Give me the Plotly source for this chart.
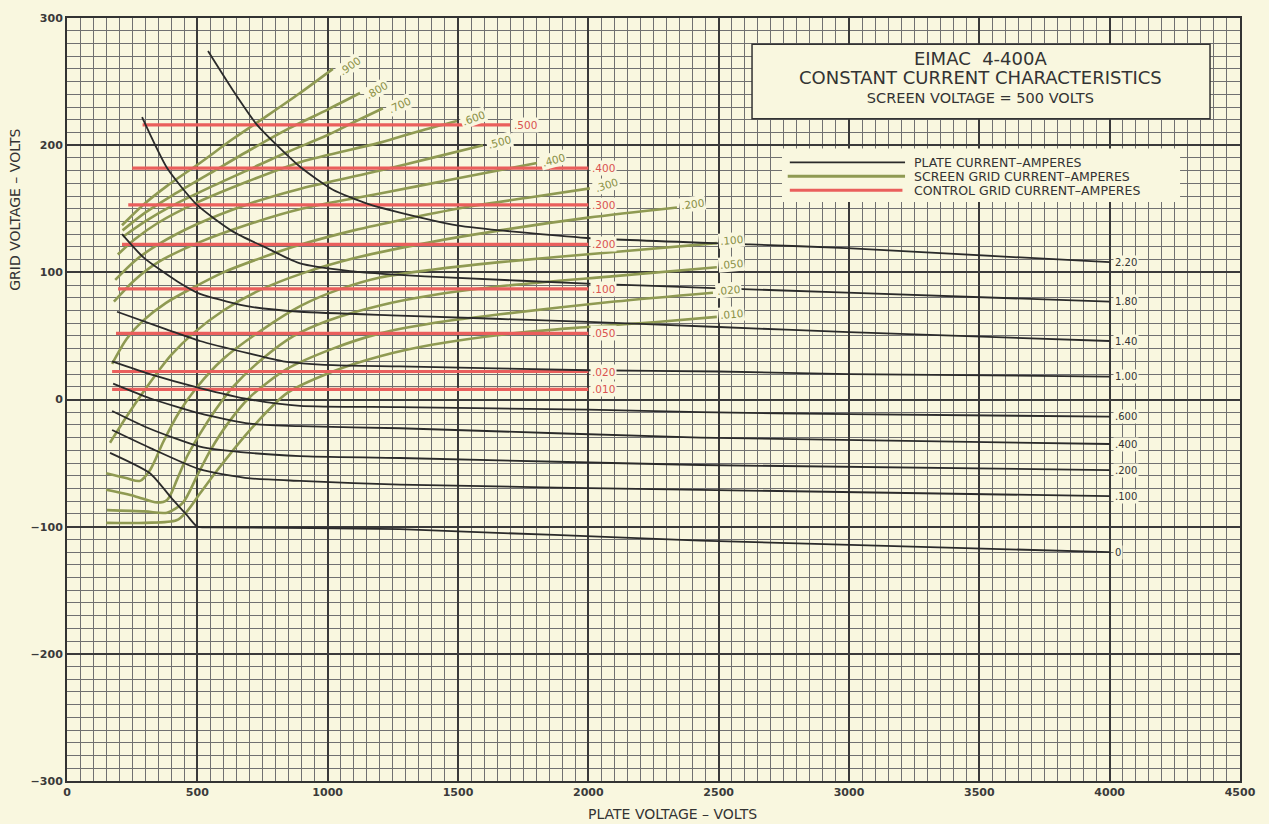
import plotly.graph_objects as go

# ---------------- data ----------------
x_tick_vals = [0, 500, 1000, 1500, 2000, 2500, 3000, 3500, 4000, 4500]
y_tick_vals = [-300, -200, -100, 0, 100, 200, 300]

# Plate current curves (amperes)
plate_labels = ["2.20", "1.80", "1.40", "1.00", ".600", ".400", ".200", ".100", "0"]
plate_ep = [
    [541, 637, 729, 894, 1020, 1151, 1277, 1496, 1995, 2620, 2992, 4000],
    [288, 384, 499, 637, 767, 894, 1086, 1277, 1458, 2018, 2428, 2992, 4000],
    [211, 292, 422, 510, 614, 702, 894, 1277, 2000, 2500, 3000, 4000],
    [192, 384, 510, 702, 829, 1020, 1277, 2000, 2500, 3000, 4000],
    [173, 318, 510, 702, 894, 1277, 2000, 2430, 3000, 4000],
    [177, 318, 510, 702, 894, 1277, 2430, 4000],
    [173, 318, 510, 702, 894, 1277, 2430, 4000],
    [173, 318, 510, 702, 894, 1277, 2430, 4000],
    [165, 318, 407, 460, 500, 560, 1277, 2430, 4000],
]
plate_eg = [
    [274, 243, 216, 183, 165, 154, 147, 137, 127, 122, 119, 108],
    [222, 182, 153, 132, 119, 107, 101, 98, 96, 91, 88, 84, 77],
    [130, 112, 93, 83, 77, 73, 69, 66, 61, 57, 53, 46],
    [69, 55, 46, 36, 30, 27, 26, 23, 22, 20, 18],
    [30, 20, 9, 0, -5, -6, -8, -10, -11.5, -13.5],
    [12.5, 1, -11, -19, -21, -22.6, -30, -35],
    [-9, -23, -37, -42, -44.5, -46, -51.5, -55.5],
    [-24, -38, -55, -62, -64, -67, -71, -76],
    [-42, -58, -79, -91, -100, -100.5, -102, -111, -120],
]

# Screen grid current curves (amperes)
screen_labels = [".900", ".800", ".700", ".600", ".500", ".400", ".300", ".200",
                 ".100", ".050", ".020", ".010"]
screen_ep = [
    [211, 292, 384, 510, 637, 767, 894, 1020],
    [213, 300, 400, 550, 700, 850, 1000, 1124],
    [215, 300, 400, 550, 700, 850, 1000, 1100, 1212],
    [195, 260, 350, 500, 700, 900, 1201, 1350, 1496],
    [185, 260, 350, 500, 700, 900, 1201, 1400, 1596],
    [180, 260, 350, 500, 700, 900, 1201, 1500, 1803],
    [173, 230, 292, 380, 484, 600, 740, 900, 1100, 1300, 1550, 1780, 2006],
    [165, 230, 300, 357, 400, 484, 600, 740, 900, 1100, 1350, 1661, 2000, 2340],
    [150, 230, 280, 320, 370, 430, 500, 600, 750, 900, 1050, 1201, 1400, 1661, 2100, 2493],
    [150, 260, 345, 384, 422, 460, 510, 570, 637, 750, 870, 1000, 1201, 1400, 1661, 2100, 2493],
    [153, 300, 384, 445, 499, 550, 620, 702, 844, 1020, 1201, 1400, 1661, 2100, 2478],
    [150, 300, 420, 460, 510, 575, 702, 844, 1020, 1201, 1400, 1711, 1995, 2263, 2493],
]
screen_eg = [
    [137, 153, 168, 186, 205, 223, 241, 260],
    [133, 147, 160, 178, 196, 213, 228, 241],
    [128, 140, 152, 167, 181, 195, 208, 218, 229],
    [114, 126, 139, 155, 172, 187, 202, 211, 219],
    [94, 109, 122, 138, 154, 166, 180, 190, 200],
    [77, 94, 108, 123, 138, 150, 162, 174, 186],
    [28, 48, 62, 76, 88, 100, 111, 122, 133, 142, 152, 159, 166],
    [-34, -13, 8, 24, 35, 52, 70, 86, 99, 111, 122, 133, 143, 151],
    [-58, -62, -64, -55, -33, -10, 10, 32, 55, 74, 87, 96, 102, 108, 116, 123],
    [-71, -76, -81, -79, -63, -45, -27, -8, 10, 32, 50, 62, 74, 82, 89, 97, 104],
    [-87, -88, -89, -81, -60, -40, -18, 2, 24, 40, 52, 60, 67, 77, 84],
    [-97, -97, -95, -88, -74, -56, -24, 5, 22, 34, 43, 52, 57, 61, 65],
]

# Control grid current lines (amperes)
control_labels = [".500", ".400", ".300", ".200", ".100", ".050", ".020", ".010"]
control_eg = [216, 182, 153, 122, 87, 52, 22, 8]
control_ep_start = [290, 250, 235, 211, 196, 188, 173, 173]
control_ep_end = [1700, 2000, 2000, 2000, 2000, 2000, 2000, 2000]

# ---------------- styling ----------------
BG = "#f9f7df"
BLACK = "#2a2a2a"
GREEN = "#8f9a52"
GREEN_TXT = "#8a9046"
RED = "#ea5f5c"
RED_TXT = "#d9534f"
TXT = "#333333"
FONT = "DejaVu Sans"

fig = go.Figure()

for xs, ys in zip(screen_ep, screen_eg):
    fig.add_trace(go.Scatter(x=xs, y=ys, mode="lines",
                             line=dict(color=GREEN, width=2.6, shape="spline", smoothing=0.8),
                             hoverinfo="skip", showlegend=False))

for y0, xs0, xs1 in zip(control_eg, control_ep_start, control_ep_end):
    fig.add_trace(go.Scatter(x=[xs0, xs1], y=[y0, y0], mode="lines",
                             line=dict(color=RED, width=3.2),
                             hoverinfo="skip", showlegend=False))

for xs, ys in zip(plate_ep, plate_eg):
    fig.add_trace(go.Scatter(x=xs, y=ys, mode="lines",
                             line=dict(color=BLACK, width=1.8, shape="spline", smoothing=0.6),
                             hoverinfo="skip", showlegend=False))

ann = []
for lab, xs, ys in zip(plate_labels, plate_ep, plate_eg):
    ann.append(dict(x=xs[-1], y=ys[-1], text=lab, showarrow=False, xanchor="left",
                    xshift=3, font=dict(family=FONT, size=10, color=TXT),
                    bgcolor=BG, borderpad=1))

screen_angles = [-35, -30, -25, -20, -15, -15, -18, -8, -5, -5, -5, -5]
for lab, xs, ys, ang in zip(screen_labels, screen_ep, screen_eg, screen_angles):
    ann.append(dict(x=xs[-1], y=ys[-1], text=lab, showarrow=False, xanchor="left",
                    xshift=1, yshift=3, textangle=ang,
                    font=dict(family=FONT, size=10.5, color=GREEN_TXT),
                    bgcolor=BG, borderpad=1))

for lab, y0, xe in zip(control_labels, control_eg, control_ep_end):
    ann.append(dict(x=xe, y=y0, text=lab, showarrow=False, xanchor="left", xshift=2,
                    font=dict(family=FONT, size=10.5, color=RED_TXT),
                    bgcolor=BG, borderpad=1))

shapes = [
    dict(type="rect", x0=2628, x1=4385, y0=220.8, y1=279.3, xref="x", yref="y",
         fillcolor=BG, line=dict(color=TXT, width=1.5), layer="above"),
    dict(type="rect", x0=2743, x1=4270, y0=155.3, y1=197.4, xref="x", yref="y",
         fillcolor=BG, line=dict(width=0), layer="above"),
    dict(type="line", x0=2773, x1=3215, y0=186.5, y1=186.5, xref="x", yref="y",
         line=dict(color=BLACK, width=1.8), layer="above"),
    dict(type="line", x0=2765, x1=3215, y0=175.5, y1=175.5, xref="x", yref="y",
         line=dict(color=GREEN, width=3), layer="above"),
    dict(type="line", x0=2773, x1=3205, y0=164.6, y1=164.6, xref="x", yref="y",
         line=dict(color=RED, width=3), layer="above"),
]

title_text = ("<span style='font-size:18px'>EIMAC  4-400A</span><br>"
              "<span style='font-size:18px'>CONSTANT CURRENT CHARACTERISTICS</span><br>"
              "<span style='font-size:14.5px'>SCREEN VOLTAGE = 500 VOLTS</span>")
ann.append(dict(x=3506, y=253.5, text=title_text, showarrow=False, xanchor="center",
                yanchor="middle", align="center",
                font=dict(family=FONT, size=14.5, color=TXT)))

legend_texts = ["PLATE CURRENT–AMPERES", "SCREEN GRID CURRENT–AMPERES", "CONTROL GRID CURRENT–AMPERES"]
legend_y = [186.5, 175.5, 164.6]
for t, ty in zip(legend_texts, legend_y):
    ann.append(dict(x=3241, y=ty, text=t, showarrow=False, xanchor="left",
                    font=dict(family=FONT, size=12.5, color=TXT)))

ann.append(dict(x=-0.045, y=0.749, xref="paper", yref="paper", text="GRID VOLTAGE – VOLTS",
                textangle=-90, showarrow=False, xanchor="center", yanchor="middle",
                font=dict(family=FONT, size=14, color=TXT)))
ann.append(dict(x=0.516, y=-0.043, xref="paper", yref="paper", text="PLATE VOLTAGE – VOLTS",
                showarrow=False, xanchor="center", yanchor="middle",
                font=dict(family=FONT, size=14, color=TXT)))

fig.update_layout(
    width=1269, height=824,
    margin=dict(l=67, r=29, t=12, b=43),
    paper_bgcolor=BG, plot_bgcolor=BG,
    showlegend=False,
    annotations=ann, shapes=shapes,
    font=dict(family=FONT),
)
axis_common = dict(showgrid=True, gridcolor="#3a3a3a", gridwidth=1.6,
                   showline=True, linecolor=TXT, linewidth=2, mirror=True,
                   zeroline=False, ticks="",
                   tickfont=dict(family=FONT, size=11, color="#3a3a3a", weight="bold"))
fig.update_xaxes(range=[0, 4500], tickvals=x_tick_vals,
                 minor=dict(dtick=50, showgrid=True, gridcolor="#707070", gridwidth=1),
                 **axis_common)
fig.update_yaxes(range=[-300, 300], tickvals=y_tick_vals,
                 minor=dict(dtick=10, showgrid=True, gridcolor="#707070", gridwidth=1),
                 **axis_common)

fig.write_html("out.html",
               config={"displayModeBar": False},
               post_script="document.body.style.margin='0px';"
                           "document.body.style.background='#f9f7df';")
